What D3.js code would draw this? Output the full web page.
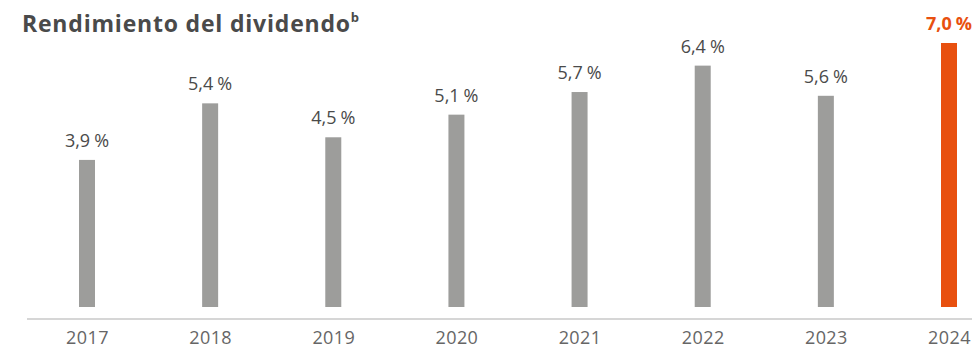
<!DOCTYPE html>
<html>
<head>
<meta charset="utf-8">
<script src="https://cdn.jsdelivr.net/npm/d3@7"></script>
<style>
  html, body { margin: 0; padding: 0; background: #fff; }
  svg { display: block; }
</style>
</head>
<body>
<svg id="chart" width="972" height="348"></svg>
<script>
// Dividend yield by year (%)
const years = ["2017", "2018", "2019", "2020", "2021", "2022", "2023", "2024"];
const yields = [3.9, 5.4, 4.5, 5.1, 5.7, 6.4, 5.6, 7.0];
const highlightYear = "2024";

const svg = d3.select("#chart");
const font = "'Open Sans', Lato, sans-serif";

const x = d3.scalePoint().domain(years).range([87, 949]);
const y = d3.scaleLinear().domain([0, 7]).range([307, 43]);
const barW = 16;

const fmtNum = v => d3.format(".1f")(v).replace(".", ",");

// Title
const title = svg.append("text")
  .attr("x", 22).attr("y", 32)
  .attr("font-family", font)
  .attr("font-size", 23)
  .attr("font-weight", 700)
  .attr("letter-spacing", 0.8)
  .attr("fill", "#4a4a4a")
  .text("Rendimiento del dividendo");
title.append("tspan")
  .attr("dy", -10)
  .attr("font-size", 13)
  .text("b");

// Baseline
svg.append("line")
  .attr("x1", 27).attr("x2", 972)
  .attr("y1", 319).attr("y2", 319)
  .attr("stroke", "#c8c8c8")
  .attr("stroke-width", 1.5);

const data = years.map((yr, i) => ({ year: yr, value: yields[i] }));

// Bars
svg.selectAll("rect.bar")
  .data(data)
  .join("rect")
  .attr("class", "bar")
  .attr("x", d => x(d.year) - barW / 2)
  .attr("y", d => y(d.value))
  .attr("width", barW)
  .attr("height", d => y(0) - y(d.value))
  .attr("fill", d => d.year === highlightYear ? "#e8500f" : "#9d9d9b");

// Value labels
const vals = svg.selectAll("text.val")
  .data(data)
  .join("text")
  .attr("class", "val")
  .attr("x", d => x(d.year))
  .attr("y", d => y(d.value) - 13)
  .attr("text-anchor", "middle")
  .attr("font-family", font)
  .attr("font-size", 18)
  .attr("font-weight", d => d.year === highlightYear ? 700 : 400)
  .attr("fill", d => d.year === highlightYear ? "#e8500f" : "#4a4a4a");
vals.append("tspan").text(d => fmtNum(d.value));
vals.append("tspan").attr("dx", 4).text("%");

// Year axis labels
const xAxis = d3.axisBottom(x).tickSize(0).tickPadding(0);
const gx = svg.append("g").attr("transform", "translate(0,331)").call(xAxis);
gx.select(".domain").remove();
gx.selectAll("text")
  .attr("dy", "0.71em")
  .attr("font-family", font)
  .attr("font-size", 18)
  .attr("letter-spacing", 0.4)
  .attr("fill", "#666");
</script>
</body>
</html>
